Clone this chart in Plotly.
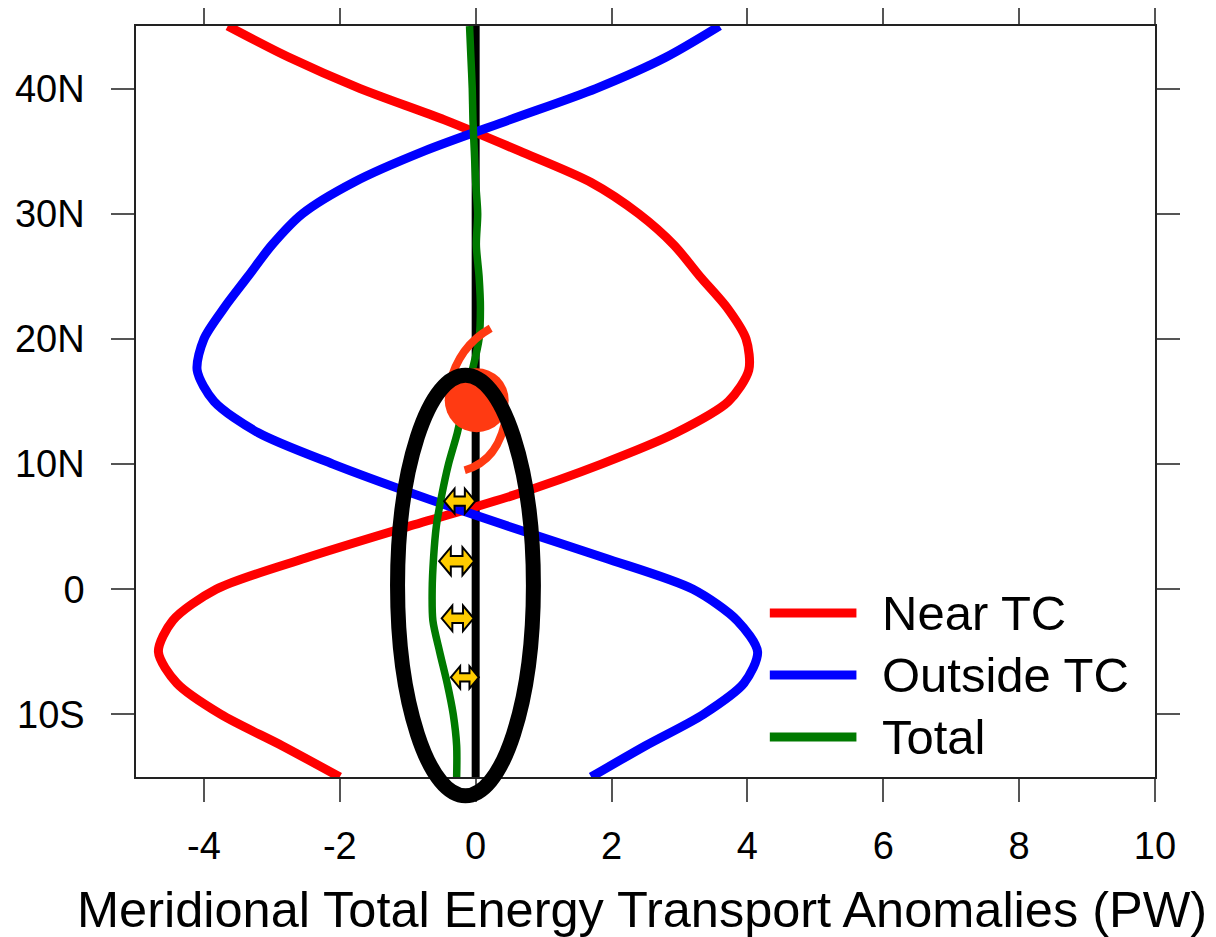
import plotly.graph_objects as go

# ---------------- data ----------------
lat = [45, 42.5, 40, 37.5, 35, 32.5, 30, 27.5, 25, 22.5, 20, 17.5, 15,
       12.5, 10, 7.5, 5, 2.5, 0, -2.5, -5, -7.5, -10, -12.5, -15]

near_tc = [-3.65, -2.75, -1.70, -0.46, 0.65, 1.70, 2.40, 2.92, 3.30, 3.70,
           3.98, 4.02, 3.72, 2.95, 1.85, 0.55, -1.00, -2.50, -3.82, -4.46,
           -4.67, -4.40, -3.75, -2.85, -2.00]

outside_tc = [3.59, 2.80, 1.77, 0.50, -0.76, -1.80, -2.55, -3.00, -3.35, -3.70,
              -4.00, -4.10, -3.85, -3.20, -2.10, -0.85, 0.50, 1.90, 3.20, 3.85,
              4.15, 3.95, 3.35, 2.50, 1.70]

total = [-0.09, -0.07, -0.05, -0.04, -0.02, 0.00, 0.03, 0.01, 0.05, 0.07,
         0.05, -0.05, -0.17, -0.27, -0.40, -0.50, -0.58, -0.62, -0.64, -0.63,
         -0.53, -0.42, -0.33, -0.28, -0.28]

series_names = ["Near TC", "Outside TC", "Total"]
series_colors = ["#ff0000", "#0000ff", "#007a00"]

x_ticks = [-4, -2, 0, 2, 4, 6, 8, 10]
y_ticks = [40, 30, 20, 10, 0, -10]
y_tick_labels = ["40N", "30N", "20N", "10N", "0", "10S"]
x_title = "Meridional Total Energy Transport Anomalies (PW)"

X_RANGE = [-5, 10]
Y_RANGE = [-15, 45]

# annotation overlay (ellipse, tropical-cyclone symbol, yellow arrows)
ellipse_x = [-1.15, 0.85]
ellipse_lat = [-16.5, 17.1]
tc_symbol_x, tc_symbol_lat = 0.015, 15.1
arrow_x = [-0.235, -0.28, -0.265, -0.16]
arrow_lat = [7.04, 2.24, -2.32, -7.04]
arrow_w = [31, 35, 32, 28]

FONT = "Liberation Sans, Arial, Helvetica, sans-serif"

# ---------------- figure ----------------
fig = go.Figure()

# zero line
fig.add_trace(go.Scatter(x=[0, 0], y=[lat[-1], lat[0]], mode="lines",
                         line=dict(color="black", width=8),
                         showlegend=False, hoverinfo="skip"))

for name, vals, col in zip(series_names, [near_tc, outside_tc, total], series_colors):
    fig.add_trace(go.Scatter(
        x=vals, y=lat, mode="lines", name=name,
        line=dict(color=col, width=9 if name != "Total" else 7.5,
                  shape="spline", smoothing=0.8),
        showlegend=False))


def px_(x):
    return (x - X_RANGE[0]) / (X_RANGE[1] - X_RANGE[0])


def py_(y):
    return (y - Y_RANGE[0]) / (Y_RANGE[1] - Y_RANGE[0])


shapes = []
# tropical cyclone symbol
tc_col = "#ff3a12"
shapes.append(dict(type="circle", xref="x", yref="y",
                   xsizemode="pixel", ysizemode="pixel",
                   xanchor=tc_symbol_x, yanchor=tc_symbol_lat,
                   x0=-32, x1=32, y0=-32, y1=32,
                   fillcolor=tc_col, line=dict(color=tc_col, width=0), layer="above"))
for pth in ["M -27,16 Q -18,54 14,72", "M 30,-12 Q 24,-60 -12,-70"]:
    shapes.append(dict(type="path", xref="x", yref="y",
                       xsizemode="pixel", ysizemode="pixel",
                       xanchor=tc_symbol_x, yanchor=tc_symbol_lat,
                       path=pth, line=dict(color=tc_col, width=8),
                       fillcolor="rgba(0,0,0,0)", layer="above"))

# ellipse (paper coords so it is not clipped by the plot area)
shapes.append(dict(type="circle", xref="paper", yref="paper",
                   x0=px_(ellipse_x[0]), x1=px_(ellipse_x[1]),
                   y0=py_(ellipse_lat[0]), y1=py_(ellipse_lat[1]),
                   line=dict(color="black", width=15), layer="above"))

# yellow double arrows
for ax_, ay_, w in zip(arrow_x, arrow_lat, arrow_w):
    h = w / 2.0
    s = w / 30.0
    path = (f"M {-h},0 L {-5*s},{12*s} L {-5*s},{4.5*s} L {5*s},{4.5*s} L {5*s},{12*s} "
            f"L {h},0 L {5*s},{-12*s} L {5*s},{-4.5*s} L {-5*s},{-4.5*s} L {-5*s},{-12*s} Z")
    shapes.append(dict(type="path", xref="x", yref="y",
                       xsizemode="pixel", ysizemode="pixel",
                       xanchor=ax_, yanchor=ay_, path=path,
                       fillcolor="#ffcc00", line=dict(color="black", width=2),
                       layer="above"))

# manual legend
annotations = []
leg_y = [0.2184, 0.1358, 0.0533]
for name, col, ly in zip(series_names, series_colors, leg_y):
    shapes.append(dict(type="line", xref="paper", yref="paper",
                       x0=0.622, x1=0.707, y0=ly, y1=ly,
                       line=dict(color=col, width=9), layer="above"))
    annotations.append(dict(xref="paper", yref="paper", x=0.730, y=ly,
                            xanchor="left", yanchor="middle", text=name,
                            showarrow=False,
                            font=dict(family=FONT, size=49, color="black")))

# x-axis title as annotation (placed below tick labels)
annotations.append(dict(xref="paper", yref="paper", x=0.4966, y=-0.1765,
                        xanchor="center", yanchor="middle", text=x_title,
                        showarrow=False,
                        font=dict(family=FONT, size=50.5, color="black")))

fig.update_layout(
    width=1216, height=937,
    margin=dict(l=128, r=69, t=18, b=168),
    paper_bgcolor="white", plot_bgcolor="white",
    font=dict(family=FONT, color="black"),
    shapes=shapes, annotations=annotations,
    showlegend=False,
    xaxis=dict(range=X_RANGE, tickvals=x_ticks, ticktext=[str(v) for v in x_ticks],
               showgrid=False, zeroline=False, automargin=False,
               showline=True, linecolor="#222", linewidth=1.5, mirror="ticks",
               ticks="outside", ticklen=23, tickwidth=1.5, tickcolor="#555",
               tickfont=dict(family=FONT, size=38, color="black"),
               ticklabelstandoff=12),
    yaxis=dict(range=Y_RANGE, tickvals=y_ticks, ticktext=y_tick_labels,
               showgrid=False, zeroline=False, automargin=False,
               showline=True, linecolor="#222", linewidth=1.5, mirror="ticks",
               ticks="outside", ticklen=23, tickwidth=1.5, tickcolor="#555",
               tickfont=dict(family=FONT, size=38, color="black"),
               ticklabelstandoff=19),
)

fig.write_html("out.html")
